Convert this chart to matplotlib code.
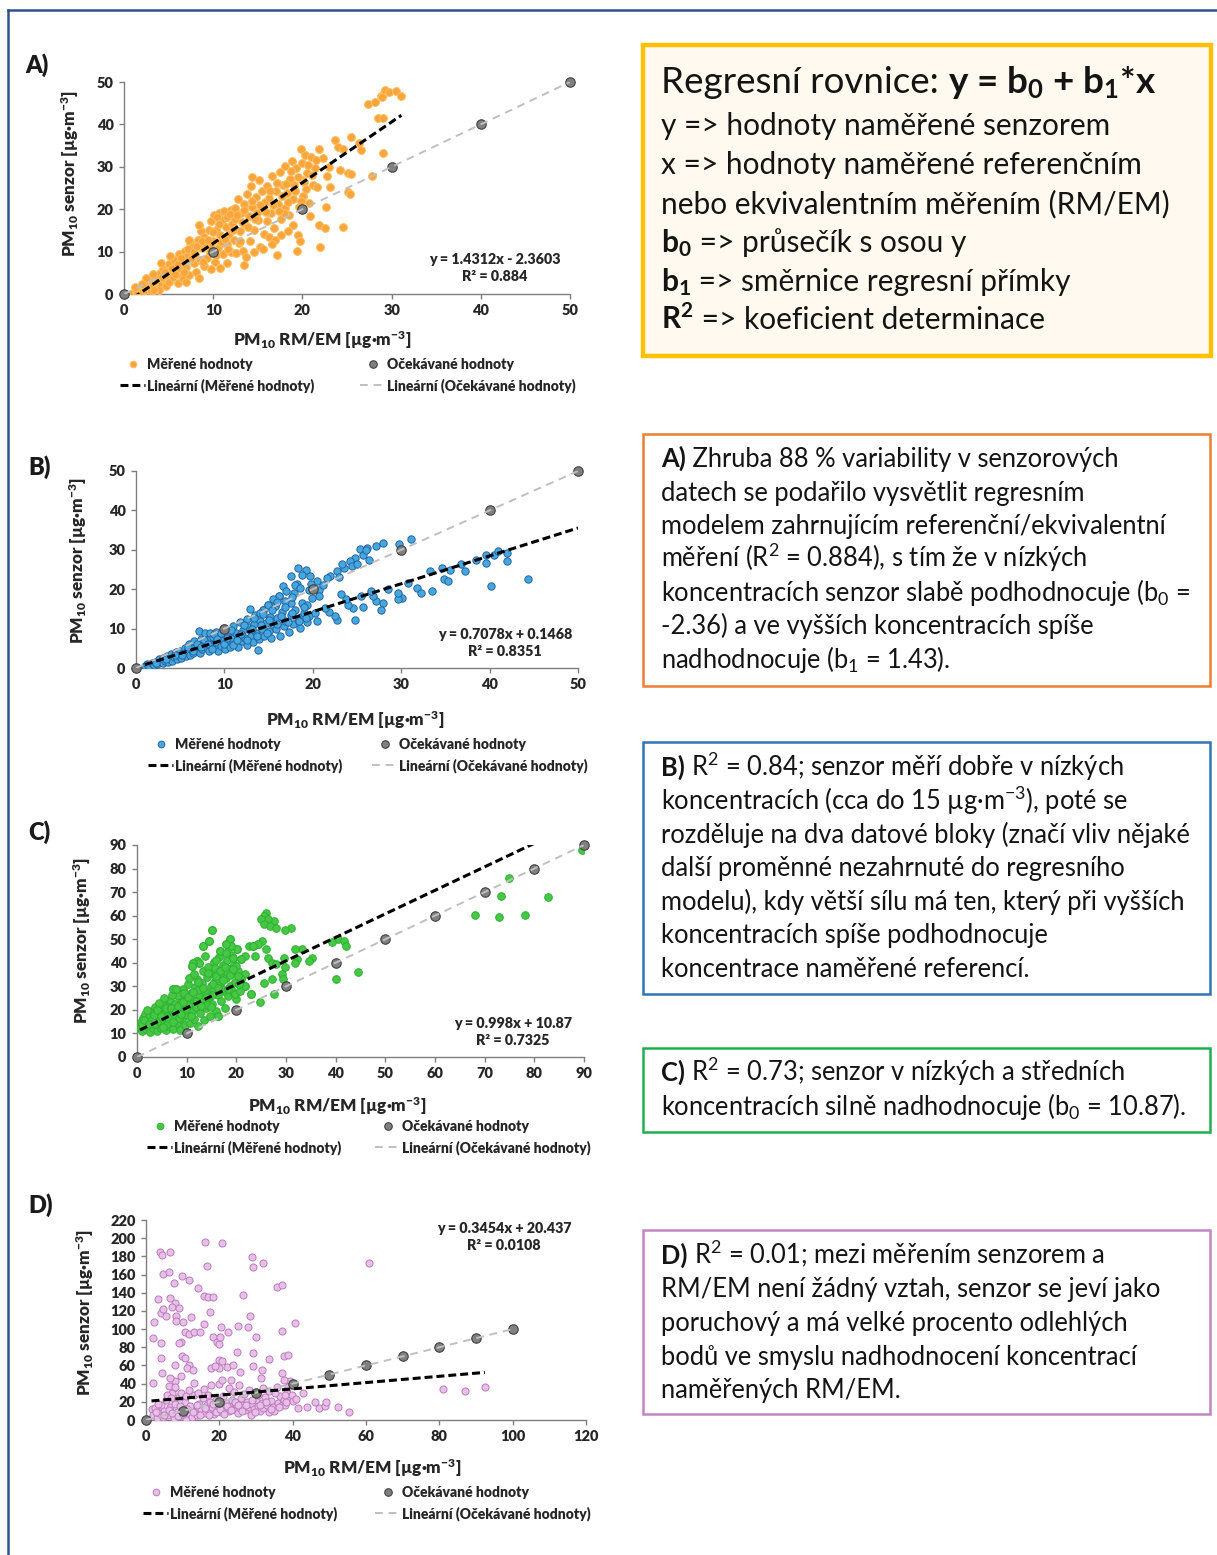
import matplotlib
matplotlib.use('Agg')
import matplotlib.pyplot as plt
from matplotlib.lines import Line2D
from matplotlib.patches import Rectangle
import numpy as np

plt.rcParams['font.family'] = ['Lato', 'DejaVu Sans']
plt.rcParams['mathtext.fontset'] = 'custom'
plt.rcParams['mathtext.rm'] = 'Lato'
plt.rcParams['mathtext.bf'] = 'Lato:bold'
plt.rcParams['mathtext.default'] = 'regular'

# ---------------- DATA ----------------
A_MEASURED = [
    (1.0,0.3),(1.3,0.8),(1.5,0.2),(1.8,1.2),(2.0,0.5),(2.2,1.8),(2.4,0.9),(2.6,2.6),(2.8,1.5),(3.0,3.2),
    (3.0,0.6),(2.5,3.8),(1.2,1.6),(3.3,2.1),(3.5,4.2),(3.6,1.2),
    (3.8,3.0),(4.0,5.0),(4.2,2.2),(4.4,6.0),(4.5,3.6),(4.7,1.8),(4.8,4.5),(5.0,7.0),(5.1,2.8),(5.3,5.6),
    (5.5,3.9),(5.6,8.0),(5.8,6.6),(6.0,2.5),(6.0,4.8),(4.1,7.2),(5.2,9.0),(6.2,9.5),(3.9,1.0),
    (6.3,5.8),(6.5,7.8),(6.6,3.6),(6.8,10.2),(7.0,6.4),(7.1,8.9),(7.3,4.5),(7.4,12.0),(7.6,11.0),(7.8,7.2),
    (8.0,9.5),(8.1,5.2),(8.3,12.8),(8.5,8.0),(8.6,14.8),(8.8,10.8),(9.0,6.6),(9.0,13.5),(9.2,11.6),(9.3,8.4),
    (7.3,12.8),(6.9,2.8),(8.4,16.2),(9.5,15.0),
    (9.6,9.9),(9.8,17.2),(10.0,12.5),(10.1,18.6),(10.2,7.5),(10.3,15.2),(10.5,10.8),(10.6,19.2),(10.8,6.2),
    (10.8,13.8),(11.0,17.5),(11.1,9.4),(11.2,19.6),(11.4,15.8),(11.5,11.8),(11.6,18.2),(11.8,14.2),(12.0,19.8),
    (12.0,9.9),(12.1,16.6),(12.3,12.8),(12.4,20.2),(12.5,17.8),(10.4,18.2),(11.9,18.8),(12.6,9.6),(10.9,12.2),
    (12.8,22.5),(13.0,14.8),(13.1,19.2),(13.3,10.2),(13.4,21.2),(13.5,6.9),(13.6,16.5),(13.8,23.5),(14.0,18.4),
    (14.1,12.4),(14.2,25.4),(14.3,27.6),(14.4,20.6),(14.6,15.2),(14.8,22.8),(15.0,17.4),(15.1,26.8),(15.2,11.0),
    (15.4,19.8),(15.5,24.2),(15.7,14.2),(15.8,21.8),(16.0,17.2),(16.0,25.4),(13.2,17.0),(14.9,19.2),(12.9,12.0),
    (15.6,10.5),(16.2,13.5),
    (16.3,22.6),(16.5,19.0),(16.6,27.8),(16.8,15.6),(17.0,24.4),(17.2,9.2),(17.3,21.2),(17.5,28.8),(17.6,17.8),
    (17.8,25.6),(18.0,20.4),(18.1,30.2),(18.3,23.8),(18.5,18.6),(18.6,27.2),(18.8,31.4),(19.0,22.4),(19.1,25.8),
    (19.3,29.6),(19.4,10.2),(19.5,13.9),(19.6,20.6),(19.7,12.5),(19.8,34.1),(19.9,26.8),(20.0,30.8),(20.1,23.2),
    (17.9,19.0),(18.9,16.2),(16.9,12.8),
    (20.3,32.7),(20.5,28.6),(20.7,21.4),(21.0,32.4),(21.2,25.8),(21.4,29.8),(21.6,25.3),(21.9,34.3),(21.9,16.3),
    (22.0,11.2),(22.3,32.0),(22.5,15.5),(22.8,27.8),(23.0,30.0),(23.1,25.3),(23.7,36.4),(24.0,34.7),(24.6,34.3),
    (24.2,29.2),(25.1,28.6),(25.4,28.3),(25.1,24.1),(25.3,23.5),(24.6,15.9),(25.5,37.0),(26.4,35.5),(26.6,33.9),
    (22.6,20.6),(20.8,18.4),
    (27.8,27.8),(29.0,33.3),(28.5,41.6),(29.0,41.6),(27.3,44.9),(28.1,45.3),(28.8,46.8),(29.1,47.5),(29.3,48.2),
    (29.7,47.6),(30.5,47.8),(31.1,46.6),(28.9,46.4),
    (2.0,2.4),(3.2,4.6),(3.4,0.9),(4.3,4.0),(4.6,5.2),(5.4,6.2),(5.7,4.6),(6.1,7.0),(6.4,8.6),(6.7,5.2),
    (7.2,10.6),(7.5,8.2),(7.9,9.8),(8.2,11.4),(8.7,12.4),(8.9,7.6),(9.4,12.8),(9.7,11.0),(10.0,14.6),(10.3,9.2),
    (10.7,16.4),(11.3,13.0),(11.7,10.6),(12.2,15.2),(12.7,18.6),(13.0,12.4),(13.5,19.8),(13.9,15.8),(14.3,22.0),
    (14.7,17.6),(15.3,21.0),(15.9,19.4),(16.4,24.2),(16.7,21.0),(17.1,26.2),(17.4,19.6),(17.7,23.0),(18.2,26.0),
    (18.4,21.6),(18.7,29.0),(19.2,24.2),(19.5,27.6),(19.8,22.0),(20.2,26.4),(20.6,30.4),(21.1,28.0),(21.5,31.6),
    (20.4,24.8),(13.7,8.8),(11.5,7.4),(9.8,5.8),(8.4,3.8),(14.6,9.8),(16.6,11.8),(18.4,14.8),(17.6,13.8),
]

B_MEASURED = [
    (1.0,0.5),(1.3,1.0),(1.5,0.3),(1.8,1.2),(2.0,0.8),(2.2,1.6),(2.4,0.9),(2.6,2.2),(2.8,1.4),(3.0,2.5),
    (3.1,1.2),(3.3,1.9),(3.5,3.0),(3.6,1.6),(3.8,2.4),(4.0,3.6),(4.1,1.8),(4.3,2.8),(4.5,4.0),(4.6,2.2),
    (4.8,3.3),(5.0,4.4),(5.1,2.6),(5.3,3.8),(5.5,5.2),(5.6,3.0),(5.8,4.4),(6.0,6.0),(6.1,3.4),(6.3,5.0),
    (6.5,3.9),(6.6,6.8),(6.8,4.5),(7.0,5.6),(7.1,9.3),(7.2,3.8),(7.3,7.4),(7.5,4.8),(7.6,6.2),(7.8,8.8),
    (8.0,5.2),(8.1,7.0),(8.3,4.4),(8.4,9.0),(8.5,6.0),(8.7,7.8),(8.9,5.0),(9.0,9.2),(9.1,6.6),(9.3,4.2),
    (9.4,8.2),(9.6,5.6),(9.8,7.2),(10.0,10.2),(10.1,4.8),(10.2,6.4),(10.4,8.8),(10.6,5.4),(10.8,7.6),(11.0,10.6),
    (11.1,6.2),(11.3,9.0),(11.5,5.4),(11.6,8.0),(11.8,11.6),(12.0,6.8),(12.1,9.6),(12.3,7.6),(12.5,12.4),(12.6,5.8),
    (12.8,10.4),(12.9,15.0),(13.0,8.2),(13.2,6.6),(13.4,11.2),(13.5,13.4),(13.6,9.0),(13.8,4.6),(13.9,7.4),(14.0,12.0),
    (14.2,10.0),(14.4,14.8),(14.5,8.2),(14.7,11.4),(14.9,16.1),(15.0,9.4),(15.2,13.0),(15.3,7.6),(15.5,11.0),(15.7,15.7),
    (15.8,9.8),(16.0,12.6),(16.2,18.2),(16.3,8.2),(16.5,14.2),(16.7,10.6),(16.9,12.0),(17.1,16.4),(17.3,9.2),(17.5,13.4),
    (17.8,11.2),(18.0,14.6),(18.2,21.2),(18.5,10.2),(18.7,13.0),(19.0,14.0),(19.3,11.6),(19.6,13.2),
    (29.8,31.4),(31.1,32.8),(27.9,31.8),(27.2,30.9),(26.1,30.5),(25.3,30.1),(25.7,28.8),(26.4,27.5),(24.8,28.0),
    (24.2,27.1),(23.5,25.4),(23.3,26.5),(24.4,25.8),(22.7,24.6),(22.0,23.3),(21.6,22.9),(20.5,22.0),(19.7,23.3),
    (19.2,25.0),(18.3,25.4),(18.8,23.7),(17.5,23.3),(16.6,20.8),(17.0,19.5),(17.9,19.1),(16.2,18.2),(19.6,19.9),
    (20.7,19.9),(20.7,18.2),(19.9,17.8),(15.7,15.7),(14.9,16.1),(14.4,14.8),(14.0,14.0),(17.5,16.5),(18.8,16.5),
    (19.4,16.1),(26.0,30.0),(25.0,26.5),(21.2,21.0),(18.0,21.0),(16.8,17.0),(15.5,17.5),(23.0,23.0),
    (40.5,28.8),(40.9,29.7),(42.0,29.2),(39.6,28.8),(39.6,26.7),(40.2,20.8),(44.4,22.6),(42.0,27.1),(35.5,25.0),
    (34.6,25.4),(34.8,22.5),(35.3,22.0),(33.5,19.5),(31.8,20.3),(32.2,19.1),(30.1,17.8),(29.6,17.4),(29.6,19.1),
    (27.9,16.5),(27.7,14.8),(27.2,16.9),(26.8,18.2),(26.6,19.5),(25.5,18.2),(25.7,15.5),(24.6,15.3),(24.8,12.3),
    (24.0,16.1),(23.8,17.4),(22.7,12.3),(22.5,13.1),(21.8,14.2),(21.4,15.3),(20.3,14.0),(20.5,11.9),(19.2,12.7),
    (18.3,12.3),(37.2,24.6),(33.3,24.6),(36.8,26.5),(38.5,27.5),(30.8,21.5),(28.5,20.0),(23.2,18.8),
    (2.3,1.2),(3.4,2.4),(4.4,3.2),(5.2,3.4),(5.9,5.4),(6.4,4.4),(6.9,6.0),(7.4,5.4),(7.7,7.2),(8.2,6.2),
    (8.6,4.8),(8.8,8.6),(9.2,7.4),(9.6,9.0),(9.9,6.0),(10.3,7.6),(10.7,9.6),(11.0,5.8),(11.4,7.2),(11.9,8.6),
    (12.2,10.8),(12.6,7.2),(13.1,9.8),(13.3,12.6),(13.7,8.2),(14.1,10.8),(14.4,13.6),(14.8,9.0),(15.1,12.2),
    (15.4,14.6),(15.9,11.2),(16.4,13.2),(16.8,15.4),(17.2,11.8),(17.6,14.0),(18.4,12.0),(19.0,15.6),(17.7,18.0),
    (18.6,20.4),(19.8,21.4),(16.0,16.8),
]

C_MEASURED = [
    (0.6,12.5),(0.8,14.8),(1.0,11.2),(1.2,16.5),(1.4,13.2),(1.6,18.2),(1.8,11.8),(2.0,15.0),(2.2,12.6),(2.4,17.4),
    (2.6,10.8),(2.8,14.2),(3.0,19.4),(3.2,12.2),(3.4,16.2),(3.6,21.2),(3.8,13.6),(4.0,11.0),(4.2,18.0),(4.4,15.2),
    (4.6,20.4),(4.8,12.4),(5.0,16.8),(5.2,22.6),(5.4,14.0),(5.6,19.0),(5.8,11.6),(6.0,17.4),(6.2,21.8),(6.4,13.2),
    (6.6,24.0),(6.8,15.8),(7.0,19.8),(7.2,12.0),(7.3,28.8),(7.5,17.2),(7.7,22.4),(7.9,28.8),(8.0,14.4),(8.2,26.0),
    (8.4,19.0),(8.6,11.4),(8.8,23.2),(9.0,16.2),(9.2,29.0),(9.4,20.8),(9.6,13.4),(9.8,25.4),(10.0,18.0),(10.2,31.0),
    (10.4,22.2),(10.6,14.6),(10.8,27.0),(11.0,19.6),(11.0,38.7),(11.2,24.2),(11.3,40.1),(11.4,16.0),(11.6,29.6),(11.8,21.4),
    (12.0,33.2),(12.1,40.8),(12.2,13.2),(12.4,26.4),(12.5,40.1),(12.6,18.6),(12.8,30.8),(13.0,23.4),(13.2,36.6),(13.3,47.1),
    (13.4,15.8),(13.6,27.8),(13.8,20.6),(14.0,33.8),(14.2,38.4),(14.4,49.2),(14.4,25.0),(14.6,17.6),(14.8,30.2),(15.0,35.6),
    (15.2,54.1),(15.2,22.4),(15.4,28.0),(15.6,40.2),(15.8,32.4),(16.0,19.6),(16.2,37.0),(16.3,17.6),(16.4,26.2),(16.6,42.4),
    (16.7,45.0),(16.8,30.6),(17.0,23.6),(17.2,35.2),(17.4,39.2),(17.6,28.2),(17.8,21.0),(17.9,47.8),(17.9,44.3),(18.0,33.4),
    (18.2,41.2),(18.4,25.8),(18.6,37.4),(18.7,49.9),(18.8,30.0),(19.0,43.4),(19.0,47.1),(19.2,35.6),(19.4,27.6),(19.4,42.2),
    (19.6,39.0),(19.8,32.0),(20.0,24.6),(20.2,45.7),(20.4,36.4),(20.6,30.9),(21.0,41.5),(21.7,42.9),(21.7,35.2),(21.7,30.2),
    (22.5,47.1),(22.9,26.7),(23.3,47.1),(23.7,42.9),(24.4,47.8),(24.8,23.2),(25.2,49.2),
    (2.0,20.0),(3.0,15.5),(4.5,23.0),(5.5,25.2),(6.0,13.8),(7.0,26.5),(8.5,16.5),(9.5,27.2),(10.5,33.5),(11.5,35.2),
    (12.2,28.5),(13.0,31.5),(14.0,22.0),(15.0,26.2),(16.0,34.2),(17.0,29.0),(18.2,36.0),(19.0,29.0),(20.0,38.5),(21.0,33.0),
    (1.0,14.0),(1.5,15.6),(2.5,13.8),(3.5,17.8),(4.0,20.0),(4.8,17.6),(5.3,12.8),(5.8,20.8),(6.3,16.4),(6.8,21.0),
    (7.2,15.0),(7.8,19.4),(8.2,21.6),(8.8,18.2),(9.3,23.4),(9.8,20.2),(10.3,25.6),(10.8,17.6),(11.3,27.4),(11.8,23.8),
    (12.3,32.0),(12.8,21.6),(13.3,29.2),(13.8,25.6),(14.3,35.6),(14.8,21.2),(15.3,31.2),(15.8,37.6),(16.3,29.2),
    (16.8,36.4),(17.3,32.6),(17.8,38.4),(18.3,28.8),(18.8,34.6),(19.3,37.2),(19.8,26.8),(20.3,34.2),(20.8,28.2),
    (13.6,43.0),(16.0,41.0),
    (89.6,87.9),(74.8,75.9),(73.2,68.2),(72.8,59.5),(68.0,60.1),(78.2,60.3),(82.8,67.8),
    (40.4,49.9),(41.6,49.2),(42.0,47.1),(39.3,48.8),(40.1,33.3),(44.5,36.1),
    (35.2,42.2),(34.7,40.8),(33.3,45.7),(32.2,41.8),(31.9,45.7),(31.8,39.8),
    (31.0,54.9),(29.8,54.1),(27.5,57.7),(26.0,61.2),(25.6,59.8),(26.4,58.4),(25.0,58.6),(25.6,56.3),(26.7,55.6),(27.9,54.9),
    (24.4,47.8),(23.3,47.1),(26.0,45.7),(26.4,42.2),(27.2,40.1),(27.9,39.4),(29.5,42.2),(29.8,38.0),(29.1,35.2),(29.3,33.1),
    (27.2,33.1),(27.5,26.7),(25.6,31.6),(22.9,26.7),(21.7,30.2),(20.6,30.9),(21.0,41.5),(19.4,42.2),(20.2,45.7),(18.7,49.9),
    (19.0,47.1),(17.9,47.8),(15.2,54.1),(14.4,49.2),(13.3,47.1),(12.1,40.8),(12.5,40.1),(11.3,40.1),(11.0,38.7),(16.7,45.0),
    (17.9,44.3),(16.3,17.6),(7.3,28.8),(7.9,28.8),
]

D_MEASURED = [
    (3.9,184.7),(4.4,181.8),(6.5,184.7),(16.1,195.6),(20.8,194.9),(28.9,179.2),(29.1,168.3),(32.0,172.7),(16.6,169.4),
    (60.8,173.0),(1.8,90.0),(2.3,107.5),(3.3,132.6),(4.2,117.3),(4.6,121.7),(5.4,114.4),(4.6,161.0),(6.3,162.8),
    (6.5,133.7),(7.5,150.8),(8.0,128.2),(7.2,124.6),(8.3,114.4),(8.2,109.3),(9.1,122.8),(9.8,158.1),(11.7,153.7),
    (14.1,145.7),(10.1,108.2),(10.6,97.3),(11.7,94.7),(13.2,97.3),(14.6,97.3),(12.2,112.9),(9.6,86.3),(9.1,84.5),
    (4.1,85.2),(4.2,68.1),(4.4,51.7),(8.0,60.8),(9.8,70.7),(10.6,68.1),(11.7,60.8),(11.1,57.2),(12.7,55.4),(13.2,40.8),
    (9.6,48.1),(8.0,42.6),(6.5,46.3),(7.7,35.3),(6.3,37.2),(1.8,40.8),(15.8,136.2),(16.9,135.5),(18.4,134.8),
    (17.4,119.1),(15.8,105.6),(18.4,91.8),(19.4,86.3),(19.8,83.8),(20.2,91.1),(20.4,102.7),(20.0,65.6),(20.8,65.2),
    (20.0,57.2),(17.7,57.2),(18.9,59.0),(22.1,57.9),(22.4,97.3),(25.2,103.5),(27.8,102.7),(26.5,137.3),(29.9,91.8),
    (28.3,114.4),(23.6,60.8),(25.7,52.5),(24.7,74.3),(23.1,44.4),(29.2,59.7),(29.2,73.6),(31.3,46.3),(31.5,55.4),
    (33.5,67.0),(35.6,146.4),(37.2,148.3),(37.2,98.4),(37.2,51.7),(37.7,70.7),(38.8,71.8),(39.3,42.6),(40.6,106.4),
    (37.5,44.4),(80.9,34.6),(87.0,32.1),(92.4,36.4),
    (1.5,12),(2.0,5),(2.5,13),(3.0,2),(3.5,8),(4.0,16),(4.5,3),(5.0,10),(5.5,22),(6.0,6),(6.5,14),(7.0,30),(7.5,2),
    (8.0,18),(8.5,9),(9.0,25),(9.5,4),(10.0,13),(10.5,20),(11.0,1),(11.5,8),(12.0,15),(12.5,3),(13.0,28),(13.5,10),
    (14.0,6),(14.5,18),(15.0,12),(15.5,24),(16.0,8),(16.5,16),(17.0,11),(17.5,20),(18.0,14),(18.5,7),(19.0,22),
    (19.5,12),(20.0,17),(20.5,9),(21.0,26),(21.5,14),(22.0,19),(22.5,10),(23.0,15),(23.5,22),(24.0,12),(24.5,18),
    (25.0,8),(25.5,13),(26.0,24),(26.5,16),(27.0,11),(27.5,20),(28.0,14),(28.5,6),(29.0,18),(29.5,12),(30.0,22),
    (30.5,15),(31.0,10),(31.5,19),(32.0,13),(32.5,25),(33.0,17),(33.5,9),(34.0,21),(34.5,14),(35.0,10),(36.0,19),
    (36.5,26),(37.0,16),(37.5,22),(38.0,17),(38.5,30),(39.0,25),(39.8,28),(40.2,21),(41.0,22.6),(41.4,13.5),
    (42.9,29.9),(44.0,14.6),(46.0,19.7),(47.1,13.1),(48.8,15.3),(49.2,19.7),(52.3,14.6),(55.4,8.7),
    (3.2,18),(5.8,28),(6.8,24),(7.8,36),(9.6,30),(10.8,26),(11.8,33),(14.2,30),(15.8,34),(16.8,28),(17.6,38),
    (19.8,40),(20.8,44),(22.6,35),(24.0,31),(25.4,38),(26.8,29),(28.2,33),(30.6,28),(31.8,35),(33.6,32),(35.2,30),
    (35.8,36),(37.8,28),(38.6,36),
    (2.8,9),(4.8,6),(6.2,11),(7.2,8),(8.8,4),(9.2,15),(10.2,7),(11.2,12),(12.8,9),(13.8,16),(14.8,5),(16.2,13),
    (17.2,6),(18.2,18),(19.2,9),(20.2,12),(21.2,7),(22.2,15),(23.2,11),(24.2,20),(25.2,16),(26.2,10),(27.2,17),
    (28.8,22),(29.8,9),(31.2,16),(32.8,20),(34.2,12),(36.2,14),(38.2,20),
]

EXP_A = [0, 10, 20, 30, 40, 50]
EXP_B = [0, 10, 20, 30, 40, 50]
EXP_C = [0, 10, 20, 30, 40, 50, 60, 70, 80, 90]
EXP_D = [0, 10, 20, 30, 40, 50, 60, 70, 80, 90, 100]

# regression: (slope, intercept), x-span of measured data
TREND_A = (1.4312, -2.3603); SPAN_A = (1.0, 31.1)
TREND_B = (0.7078, 0.1468);  SPAN_B = (1.0, 50.0)
TREND_C = (0.998, 10.87);    SPAN_C = (0.6, 89.6)
TREND_D = (0.3454, 20.437);  SPAN_D = (1.5, 92.4)

EQ_A = "y = 1.4312x - 2.3603\nR² = 0.884"
EQ_B = "y = 0.7078x + 0.1468\nR² = 0.8351"
EQ_C = "y = 0.998x + 10.87\nR² = 0.7325"
EQ_D = "y = 0.3454x + 20.437\nR² = 0.0108"

TICKS_A = [0, 10, 20, 30, 40, 50]
TICKS_C = [0, 10, 20, 30, 40, 50, 60, 70, 80, 90]
XTICKS_D = [0, 20, 40, 60, 80, 100, 120]
YTICKS_D = [0, 20, 40, 60, 80, 100, 120, 140, 160, 180, 200, 220]

LEGEND_LABELS = ['Měřené hodnoty', 'Lineární (Měřené hodnoty)',
                 'Očekávané hodnoty', 'Lineární (Očekávané hodnoty)']
YLABEL = "PM$_{10}$ senzor [µg·m$^{-3}$]"
XLABEL = "PM$_{10}$ RM/EM [µg·m$^{-3}$]"

# ---------------- FIGURE ----------------
W, H = 1217, 1555
fig = plt.figure(figsize=(W / 100, H / 100), dpi=100)
fig.patch.set_facecolor('white')
renderer = fig.canvas.get_renderer()


def fx(x):
    return x / W


def fy(y):
    return 1 - y / H


def rect(l, t, r, b):
    return [l / W, 1 - b / H, (r - l) / W, (b - t) / H]


TXT = '#262626'
HEAVY = 'heavy'


def panel(box, pts, exp_vals, trend, span, xlim, ylim, xticks, yticks, mfc, mec, msize,
          eq, eq_xy, ylab_xy, xlab_xy, leg1, leg2, letter, letter_xy):
    ax = fig.add_axes(rect(*box))
    ax.set_facecolor('none')
    xs = [p[0] for p in pts]
    ys = [p[1] for p in pts]
    ax.scatter(xs, ys, s=msize, c=mfc, edgecolors=mec, linewidths=0.7, zorder=3)
    ax.scatter(exp_vals, exp_vals, s=46, c='#808080', edgecolors='#404040', linewidths=0.8, zorder=4,
               clip_on=False)
    ax.plot([exp_vals[0], exp_vals[-1]], [exp_vals[0], exp_vals[-1]], color='#BFBFBF', lw=1.4,
            dashes=(4, 3), zorder=5)
    b1, b0 = trend
    tx = np.array(span)
    ax.plot(tx, b1 * tx + b0, color='black', lw=2.2, dashes=(2.6, 1.3), zorder=6)
    ax.set_xlim(*xlim)
    ax.set_ylim(*ylim)
    ax.set_xticks(xticks)
    ax.set_yticks(yticks)
    for s in ['top', 'right']:
        ax.spines[s].set_visible(False)
    for s in ['left', 'bottom']:
        ax.spines[s].set_color('#7F7F7F')
        ax.spines[s].set_linewidth(1.0)
    ax.tick_params(direction='out', length=3.5, width=1, color='#7F7F7F', labelsize=10.5,
                   labelcolor=TXT, pad=4)
    for lab in ax.get_xticklabels() + ax.get_yticklabels():
        lab.set_fontweight(HEAVY)
    ax.text(eq_xy[0], eq_xy[1], eq, transform=fig.transFigure, ha='center', va='center',
            multialignment='center', fontsize=10.3, fontweight=HEAVY, color=TXT, linespacing=1.3)
    fig.text(fx(ylab_xy[0]), fy(ylab_xy[1]), YLABEL, rotation=90, ha='center', va='center',
             fontsize=12.3, fontweight=HEAVY, color=TXT)
    fig.text(fx(xlab_xy[0]), fy(xlab_xy[1]), XLABEL, ha='center', va='center',
             fontsize=12.3, fontweight=HEAVY, color=TXT)
    fig.text(fx(letter_xy[0]), fy(letter_xy[1]), letter, ha='left', va='center',
             fontsize=17, fontweight=HEAVY, color='#1A1A1A')
    h_meas = Line2D([], [], ls='none', marker='o', ms=4.8, mfc=mfc, mec=mec, mew=0.7)
    h_lm = Line2D([], [], color='black', lw=2.2, dashes=(2.6, 1.3))
    h_exp = Line2D([], [], ls='none', marker='o', ms=5.4, mfc='#808080', mec='#404040', mew=0.8)
    h_le = Line2D([], [], color='#BFBFBF', lw=1.4, dashes=(4, 3))
    common = dict(loc='upper left', bbox_transform=fig.transFigure, frameon=False, borderpad=0,
                  borderaxespad=0, handlelength=1.8, handletextpad=0.12, labelspacing=0.5,
                  prop={'weight': HEAVY, 'size': 10})
    l1 = fig.legend([h_meas, h_lm], LEGEND_LABELS[:2], bbox_to_anchor=(fx(leg1[0]), fy(leg1[1])), **common)
    l2 = fig.legend([h_exp, h_le], LEGEND_LABELS[2:], bbox_to_anchor=(fx(leg2[0]), fy(leg2[1])), **common)
    for lg in (l1, l2):
        for t in lg.get_texts():
            t.set_color(TXT)
    return ax


panel((124, 82, 570, 294), A_MEASURED, EXP_A, TREND_A, SPAN_A, (0, 50), (0, 50), TICKS_A, TICKS_A,
      '#F9A53C', '#FDC064', 32, EQ_A, (fx(495), fy(268)), (70, 173), (322, 340), (120, 358), (360, 358),
      'A)', (25, 65))
panel((136, 471, 578, 668), B_MEASURED, EXP_B, TREND_B, SPAN_B, (0, 50), (0, 50), TICKS_A, TICKS_A,
      '#45A8DC', '#2463A5', 28, EQ_B, (fx(505), fy(643)), (78, 560), (355, 720), (148, 738), (372, 738),
      'B)', (28, 467))
panel((137, 845, 584, 1057), C_MEASURED, EXP_C, TREND_C, SPAN_C, (0, 90), (0, 90), TICKS_C, TICKS_C,
      '#45C845', '#2FB02F', 30, EQ_C, (fx(513), fy(1032)), (82, 940), (337, 1106), (147, 1120), (375, 1120),
      'C)', (28, 832))
panel((146, 1220, 586, 1420), D_MEASURED, EXP_D, TREND_D, SPAN_D, (0, 120), (0, 220), XTICKS_D, YTICKS_D,
      '#E6C0E6', '#BE7ABE', 26, EQ_D, (fx(504), fy(1237)), (85, 1312), (372, 1468), (143, 1486), (375, 1486),
      'D)', (28, 1205))

# ---------------- FRAME & TEXT BOXES ----------------
fig.add_artist(Line2D([fx(8), fx(1217)], [fy(10), fy(10)], color='#2F528F', lw=1.8, transform=fig.transFigure))
fig.add_artist(Line2D([fx(8), fx(8)], [fy(10), fy(1555)], color='#2F528F', lw=1.8, transform=fig.transFigure))


def box(l, t, r, b, ec, lw, fc='white'):
    fig.add_artist(Rectangle((fx(l), fy(b)), (r - l) / W, (b - t) / H, transform=fig.transFigure,
                             ec=ec, fc=fc, lw=lw, zorder=0))


box(643, 45, 1211, 356, '#FFC000', 3.2, '#FFF9EF')
box(643, 434, 1210, 686, '#ED7D31', 1.8)
box(643, 742, 1210, 994, '#2E75B6', 1.8)
box(643, 1048, 1210, 1132, '#1EAE4E', 1.8)
box(643, 1230, 1210, 1414, '#C285C2', 1.8)

BODY = '#141414'


def rich(x, y, segs, size):
    cur = x
    for s, w in segs:
        t = fig.text(fx(cur), fy(y), s, fontsize=size, fontweight=w, ha='left', va='baseline', color=BODY)
        cur += t.get_window_extent(renderer=renderer).width


TOP_LINES = [
    [("Regresní rovnice: ", 'normal'), ("y = b$_0$ + b$_1$*x", 'bold')],
    [("y => hodnoty naměřené senzorem", 'normal')],
    [("x => hodnoty naměřené referenčním", 'normal')],
    [("nebo ekvivalentním měřením (RM/EM)", 'normal')],
    [("b$_0$", 'bold'), (" => průsečík s osou y", 'normal')],
    [("b$_1$", 'bold'), (" => směrnice regresní přímky", 'normal')],
    [("R$^2$", 'bold'), (" => koeficient determinace", 'normal')],
]
TOP_BASE = [93, 135, 174, 213, 252, 291, 329]
for i, segs in enumerate(TOP_LINES):
    rich(661, TOP_BASE[i], segs, 26.5 if i == 0 else 21.5)

A_LINES = [
    [("A)", 'bold'), (" Zhruba 88 % variability v senzorových", 'normal')],
    [("datech se podařilo vysvětlit regresním", 'normal')],
    [("modelem zahrnujícím referenční/ekvivalentní", 'normal')],
    [("měření (R$^2$ = 0.884), s tím že v nízkých", 'normal')],
    [("koncentracích senzor slabě podhodnocuje (b$_0$ =", 'normal')],
    [("-2.36) a ve vyšších koncentracích spíše", 'normal')],
    [("nadhodnocuje (b$_1$ = 1.43).", 'normal')],
]
B_LINES = [
    [("B)", 'bold'), (" R$^2$ = 0.84; senzor měří dobře v nízkých", 'normal')],
    [("koncentracích (cca do 15 µg·m$^{-3}$), poté se", 'normal')],
    [("rozděluje na dva datové bloky (značí vliv nějaké", 'normal')],
    [("další proměnné nezahrnuté do regresního", 'normal')],
    [("modelu), kdy větší sílu má ten, který při vyšších", 'normal')],
    [("koncentracích spíše podhodnocuje", 'normal')],
    [("koncentrace naměřené referencí.", 'normal')],
]
C_LINES = [
    [("C)", 'bold'), (" R$^2$ = 0.73; senzor v nízkých a středních", 'normal')],
    [("koncentracích silně nadhodnocuje (b$_0$ = 10.87).", 'normal')],
]
D_LINES = [
    [("D)", 'bold'), (" R$^2$ = 0.01; mezi měřením senzorem a", 'normal')],
    [("RM/EM není žádný vztah, senzor se jeví jako", 'normal')],
    [("poruchový a má velké procento odlehlých", 'normal')],
    [("bodů ve smyslu nadhodnocení koncentrací", 'normal')],
    [("naměřených RM/EM.", 'normal')],
]
for lines, base in [(A_LINES, 467), (B_LINES, 776), (C_LINES, 1081), (D_LINES, 1264)]:
    for i, segs in enumerate(lines):
        rich(661, base + i * 33.5, segs, 18.4)

fig.savefig('out.png', dpi=100)
